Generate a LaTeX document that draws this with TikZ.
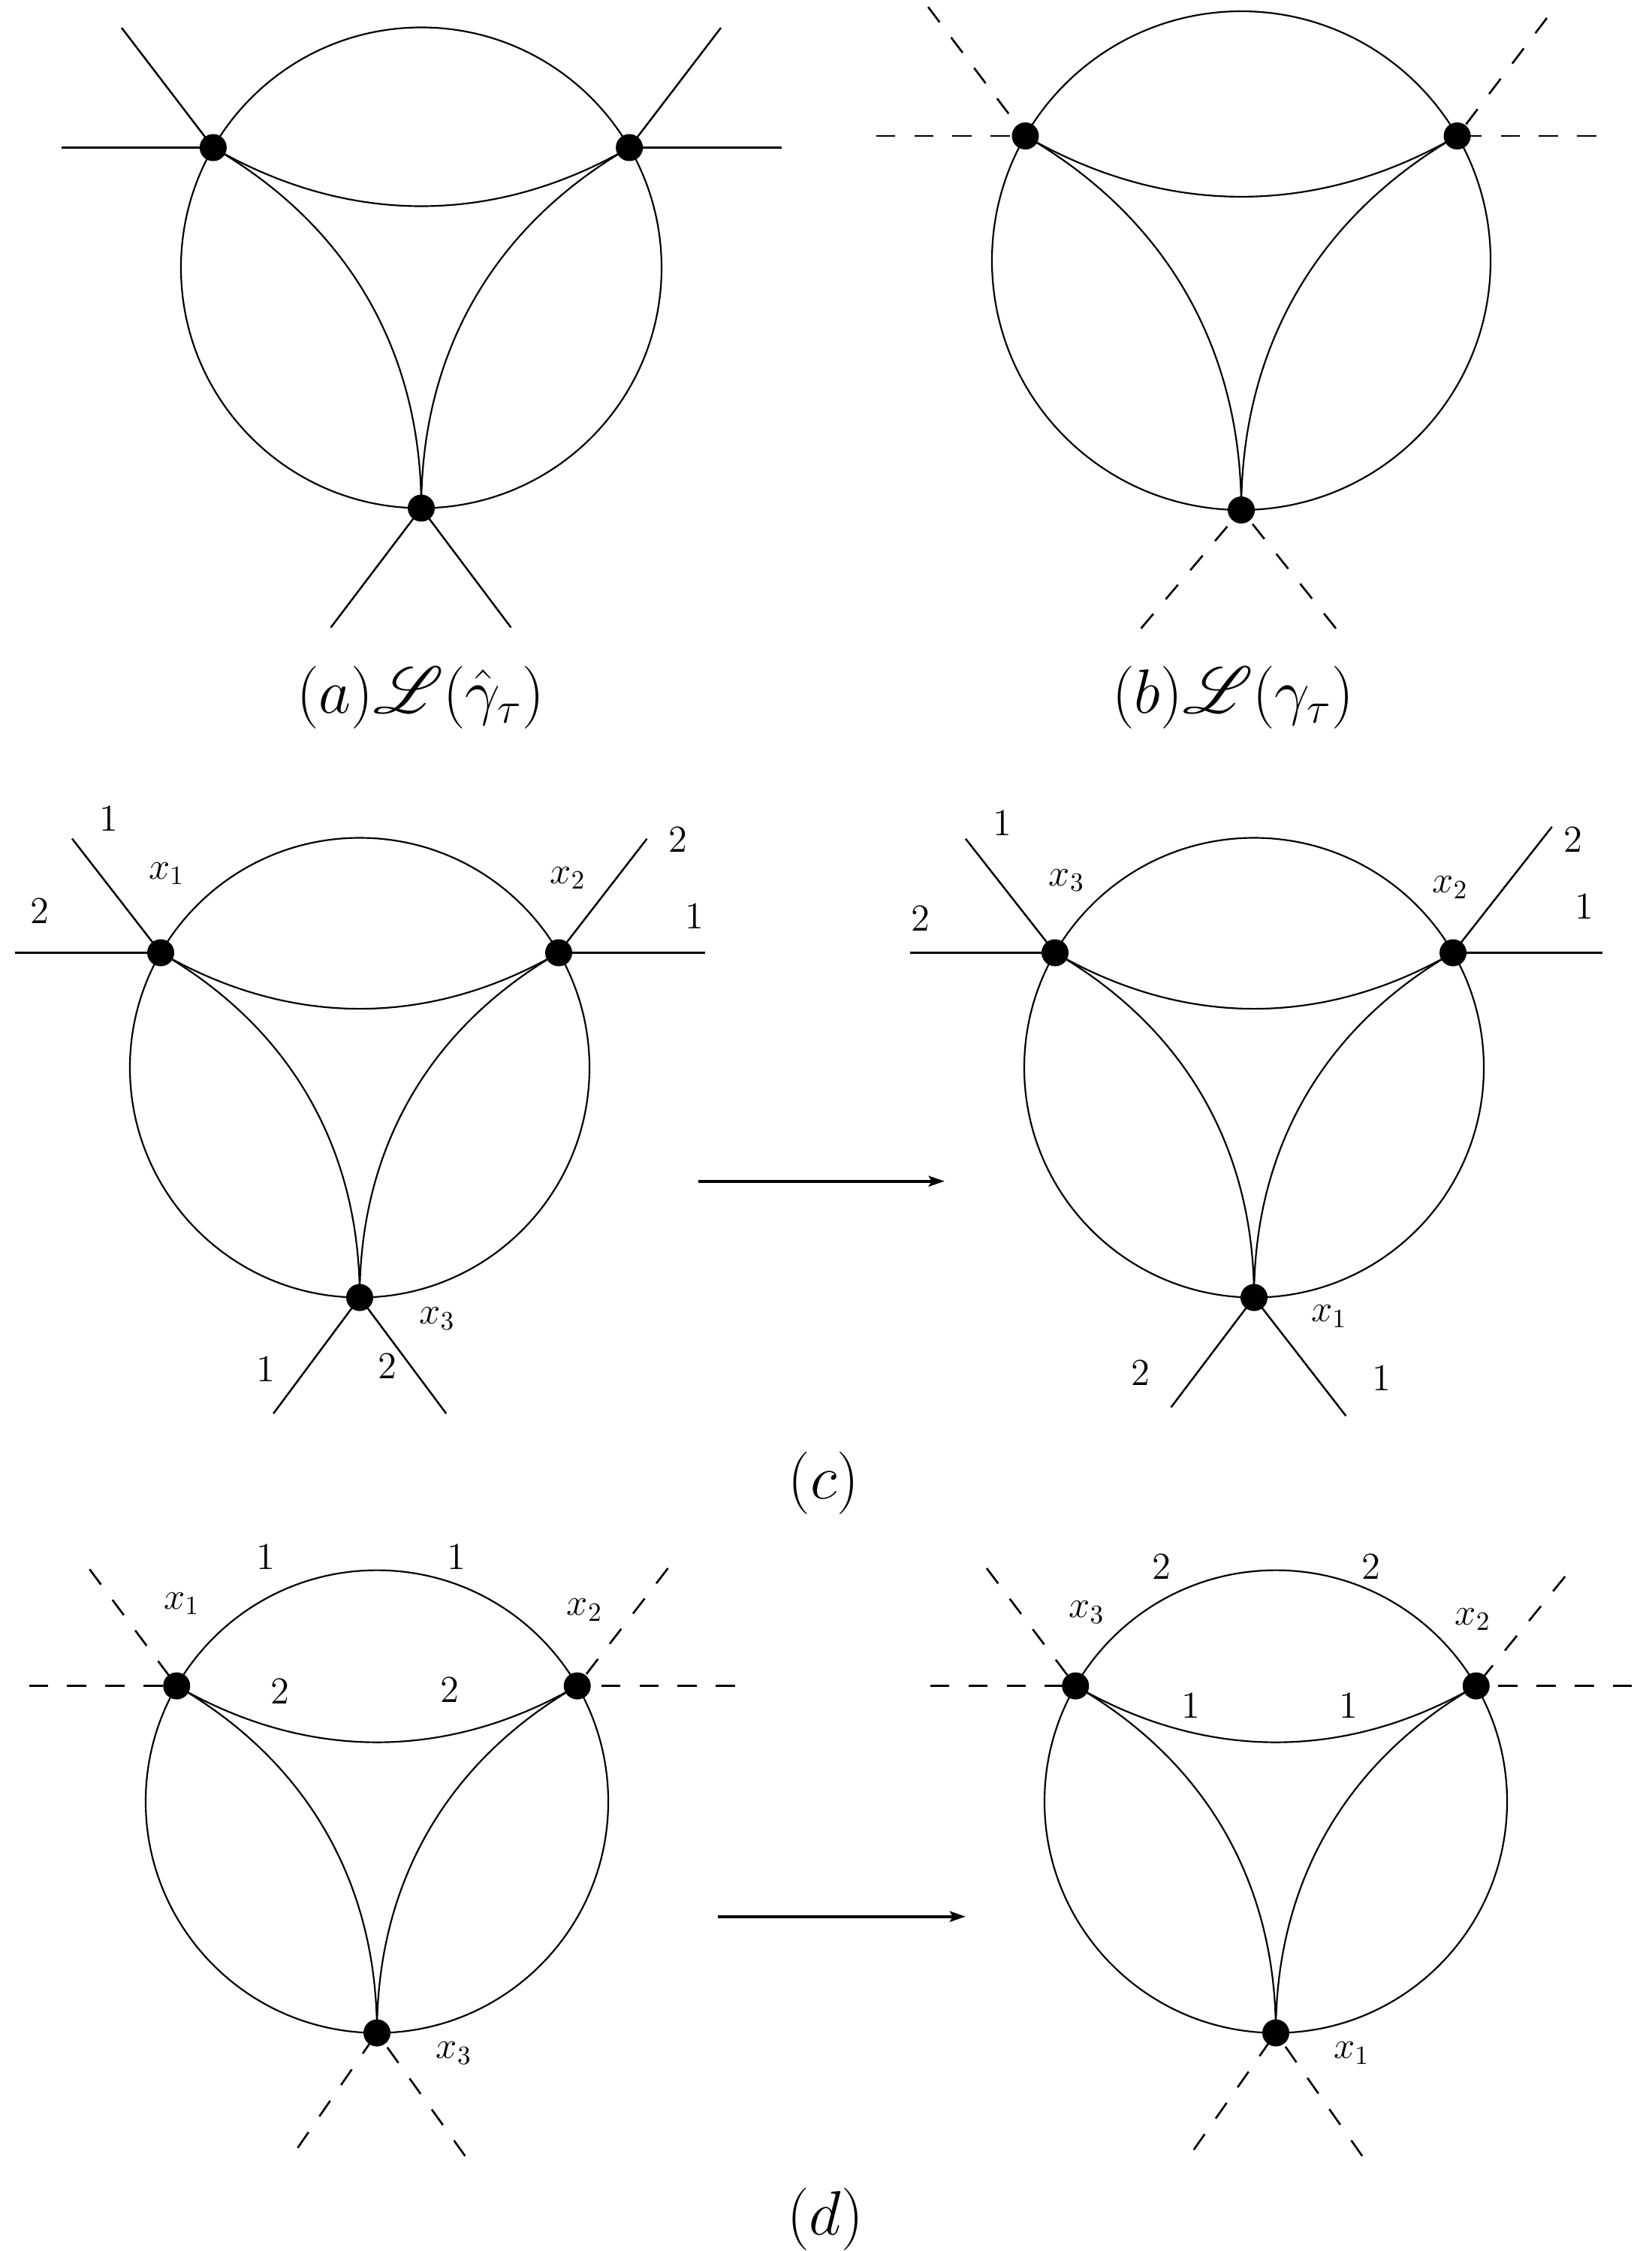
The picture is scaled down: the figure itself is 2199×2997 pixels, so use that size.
\RequirePackage{fix-cm}
\documentclass[tikz,border=0pt]{standalone}
\usepackage{mathrsfs}
\usetikzlibrary{calc,arrows.meta}
\newcommand\loopgraph[4]{%
  \coordinate (#1-O) at (#2,#3);
  \node[dot] (#1-L) at ({#2-0.8660254*#4},{#3-0.5*#4}) {};
  \node[dot] (#1-R) at ({#2+0.8660254*#4},{#3-0.5*#4}) {};
  \node[dot] (#1-B) at (#2,{#3+#4}) {};
  \draw[edge] (#1-O) circle[radius=#4];
  \draw[edge] (#1-L.center) .. controls ($(#1-L.center)!0.65!(#1-O)$) and ($(#1-R.center)!0.65!(#1-O)$) .. (#1-R.center);
  \draw[edge] (#1-L.center) .. controls ($(#1-L.center)!0.65!(#1-O)$) and ($(#1-B.center)!0.65!(#1-O)$) .. (#1-B.center);
  \draw[edge] (#1-R.center) .. controls ($(#1-R.center)!0.65!(#1-O)$) and ($(#1-B.center)!0.65!(#1-O)$) .. (#1-B.center);
}
\begin{document}
\begin{tikzpicture}[x=0.01cm,y=-0.01cm,
  dot/.style={circle,fill=black,inner sep=0pt,minimum size=0.36cm},
  edge/.style={line width=0.62pt},
  ext/.style={line width=0.7pt},
  dext/.style={line width=0.75pt,dash pattern=on 0.254cm off 0.254cm},
  lab/.style={inner sep=0pt,font=\fontsize{14.4}{17}\selectfont},
  captext/.style={inner sep=0pt,font=\fontsize{23.7}{28}\selectfont},
  maparrow/.style={line width=1.2pt,-{Stealth[length=0.21cm,width=0.14cm,inset=0.04cm]}}]
\useasboundingbox (0,0) rectangle (2199,2997);

% ---------- (a) ----------
\loopgraph{a}{561}{356.5}{320}
\coordinate (a-l1) at (82,196.5);
\coordinate (a-l2) at (162,37);
\coordinate (a-r1) at (1041,196.5);
\coordinate (a-r2) at (960,37);
\coordinate (a-b1) at (440.5,835.5);
\coordinate (a-b2) at (680.5,835.5);
\draw[ext] (a-l1) -- (a-L.center);
\draw[ext] (a-l2) -- (a-L.center);
\draw[ext] (a-r1) -- (a-R.center);
\draw[ext] (a-r2) -- (a-R.center);
\draw[ext] (a-b1) -- (a-B.center);
\draw[ext] (a-b2) -- (a-B.center);
\node[captext] (capA) at (560,929) {$(a)\mathscr{L}(\hat{\gamma}_\tau)$};

% ---------- (b) ----------
\loopgraph{b}{1653}{347}{332}
\coordinate (b-l1) at (1166.7,181);
\coordinate (b-l2) at (1236,9.3);
\coordinate (b-r1) at (2125.6,181);
\coordinate (b-r2) at (2060,24);
\coordinate (b-b1) at (1519.5,836.7);
\coordinate (b-b2) at (1779,836.7);
\draw[dext] (b-l1) -- (b-L.center);
\draw[dext] (b-l2) -- (b-L.center);
\draw[dext] (b-r1) -- (b-R.center);
\draw[dext] (b-r2) -- (b-R.center);
\draw[dext] (b-b1) -- (b-B.center);
\draw[dext] (b-b2) -- (b-B.center);
\node[captext] (capB) at (1642,929) {$(b)\mathscr{L}(\gamma_\tau)$};

% ---------- (c) left ----------
\loopgraph{c1}{479}{1421.5}{306}
\coordinate (c1-l1) at (19.6,1268.5);
\coordinate (c1-l2) at (96,1116.5);
\coordinate (c1-r1) at (938.6,1268.5);
\coordinate (c1-r2) at (861.5,1116.7);
\coordinate (c1-b1) at (364.1,1882);
\coordinate (c1-b2) at (594.2,1882);
\draw[ext] (c1-l1) -- (c1-L.center);
\draw[ext] (c1-l2) -- (c1-L.center);
\draw[ext] (c1-r1) -- (c1-R.center);
\draw[ext] (c1-r2) -- (c1-R.center);
\draw[ext] (c1-b1) -- (c1-B.center);
\draw[ext] (c1-b2) -- (c1-B.center);
\node[lab] (c1-t1) at (145,1090) {$1$};
\node[lab] (c1-tx1) at (222,1163) {$x_1$};
\node[lab] (c1-t2) at (53.3,1213.3) {$2$};
\node[lab] (c1-t3) at (902.8,1118) {$2$};
\node[lab] (c1-tx2) at (756.2,1169) {$x_2$};
\node[lab] (c1-t4) at (924.6,1220) {$1$};
\node[lab] (c1-tx3) at (582.3,1755.7) {$x_3$};
\node[lab] (c1-t5) at (354.3,1822.7) {$1$};
\node[lab] (c1-t6) at (515.6,1819.5) {$2$};

% ---------- (c) right ----------
\loopgraph{c2}{1670}{1421.5}{306}
\coordinate (c2-l1) at (1212.2,1268.5);
\coordinate (c2-l2) at (1285.9,1116.7);
\coordinate (c2-r1) at (2134,1268.5);
\coordinate (c2-r2) at (2066.7,1100.8);
\coordinate (c2-b1) at (1559.5,1873.7);
\coordinate (c2-b2) at (1792.4,1885.2);
\draw[ext] (c2-l1) -- (c2-L.center);
\draw[ext] (c2-l2) -- (c2-L.center);
\draw[ext] (c2-r1) -- (c2-R.center);
\draw[ext] (c2-r2) -- (c2-R.center);
\draw[ext] (c2-b1) -- (c2-B.center);
\draw[ext] (c2-b2) -- (c2-B.center);
\node[lab] (c2-t1) at (1335,1095.7) {$1$};
\node[lab] (c2-tx3) at (1420.6,1172.2) {$x_3$};
\node[lab] (c2-t2) at (1226.3,1223.2) {$2$};
\node[lab] (c2-t3) at (2094.7,1118) {$2$};
\node[lab] (c2-tx2) at (1931.3,1181.8) {$x_2$};
\node[lab] (c2-t4) at (2110.2,1207.3) {$1$};
\node[lab] (c2-tx1) at (1769.9,1752.6) {$x_1$};
\node[lab] (c2-t5) at (1518.8,1827.8) {$2$};
\node[lab] (c2-t6) at (1840,1835.5) {$1$};

\coordinate (c-as) at (929.5,1572.7);
\coordinate (c-ae) at (1257.8,1572.7);
\draw[maparrow] (c-as) -- (c-ae);
\node[captext] (capC) at (1097,1975) {$(c)$};

% ---------- (d) left ----------
\loopgraph{d1}{502}{2398.6}{308}
\coordinate (d1-l1) at (38.6,2244.6);
\coordinate (d1-l2) at (119.3,2089.3);
\coordinate (d1-r1) at (978.6,2244.6);
\coordinate (d1-r2) at (889.5,2088);
\coordinate (d1-b1) at (396.4,2859.7);
\coordinate (d1-b2) at (619.4,2870.5);
\draw[dext] (d1-l1) -- (d1-L.center);
\draw[dext] (d1-l2) -- (d1-L.center);
\draw[dext] (d1-r1) -- (d1-R.center);
\draw[dext] (d1-r2) -- (d1-R.center);
\draw[dext] (d1-b1) -- (d1-B.center);
\draw[dext] (d1-b2) -- (d1-B.center);
\node[lab] (d1-t1) at (354.3,2073.3) {$1$};
\node[lab] (d1-t2) at (607.5,2073.3) {$1$};
\node[lab] (d1-tx1) at (242,2135.2) {$x_1$};
\node[lab] (d1-tx2) at (778.7,2143.5) {$x_2$};
\node[lab] (d1-t3) at (373.2,2252) {$2$};
\node[lab] (d1-t4) at (598.4,2250.6) {$2$};
\node[lab] (d1-tx3) at (604.7,2733.4) {$x_3$};

% ---------- (d) right ----------
\loopgraph{d2}{1699}{2398.6}{308}
\coordinate (d2-l1) at (1238.9,2244.6);
\coordinate (d2-l2) at (1314,2088);
\coordinate (d2-r1) at (2173.3,2244.6);
\coordinate (d2-r2) at (2084.2,2098.9);
\coordinate (d2-b1) at (1589.7,2862.2);
\coordinate (d2-b2) at (1814.1,2870.5);
\draw[dext] (d2-l1) -- (d2-L.center);
\draw[dext] (d2-l2) -- (d2-L.center);
\draw[dext] (d2-r1) -- (d2-R.center);
\draw[dext] (d2-r2) -- (d2-R.center);
\draw[dext] (d2-b1) -- (d2-B.center);
\draw[dext] (d2-b2) -- (d2-B.center);
\node[lab] (d2-t1) at (1546.9,2086.1) {$2$};
\node[lab] (d2-t2) at (1826,2086.1) {$2$};
\node[lab] (d2-tx3) at (1447.2,2146.7) {$x_3$};
\node[lab] (d2-tx2) at (1961.5,2156.2) {$x_2$};
\node[lab] (d2-t3) at (1586.1,2271) {$1$};
\node[lab] (d2-t4) at (1795.9,2271) {$1$};
\node[lab] (d2-tx1) at (1800,2733.4) {$x_1$};

\coordinate (d-as) at (955.5,2551.7);
\coordinate (d-ae) at (1285.9,2551.7);
\draw[maparrow] (d-as) -- (d-ae);
\node[captext] (capD) at (1099,2955) {$(d)$};
\end{tikzpicture}
\end{document}
